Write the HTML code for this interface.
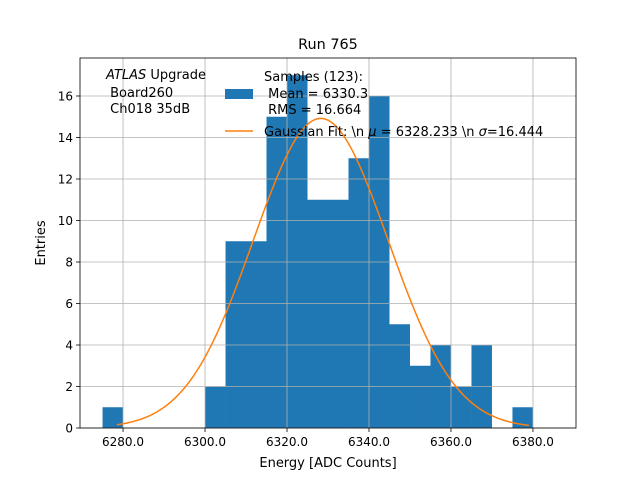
<!DOCTYPE html>
<html><head><meta charset="utf-8"><style>body{margin:0;background:#fff}svg{font-family:"DejaVu Sans","Liberation Sans",sans-serif}text{white-space:pre}</style></head>
<body>
<svg id="c" width="640" height="480">
<rect width="640" height="480" fill="#fff"/>
</svg>
<script>
const binStarts=[6275,6300,6305,6310,6315,6320,6325,6330,6335,6340,6345,6350,6355,6360,6365,6375];
const counts=[1,2,9,9,15,17,11,11,13,16,5,3,4,2,4,1];
const binWidth=5;
const xTicks=[6280,6300,6320,6340,6360,6380];
const yTicks=[0,2,4,6,8,10,12,14,16];
const fitMu=6328.233, fitSigma=16.444, fitN=123;
const L=80,R=576,T=58,B=428;
const x=v=>L+(v-6269.5)/(121)*(R-L);
const y=v=>B-v*20.75;
const svg=document.getElementById('c');
const NS='http://www.w3.org/2000/svg';
function mk(t,a,p){const e=document.createElementNS(NS,t);for(const k in a)e.setAttribute(k,a[k]);(p||svg).appendChild(e);return e;}
binStarts.forEach((s,i)=>{
  const r=mk('rect',{x:x(s),y:y(counts[i]),width:x(s+binWidth)-x(s),height:B-y(counts[i]),fill:'#1f77b4'});
  
  
});
xTicks.forEach(t=>{
  const g=mk('line',{x1:x(t),x2:x(t),y1:T,y2:B,stroke:'#b0b0b0','stroke-width':0.8});
  
  
  mk('line',{x1:x(t),x2:x(t),y1:B,y2:B+4,stroke:'#000','stroke-width':0.8});
  const l=mk('text',{x:x(t),y:B+18,'text-anchor':'middle','font-size':12});l.textContent=t.toFixed(1);
  
  
});
yTicks.forEach(t=>{
  const g=mk('line',{x1:L,x2:R,y1:y(t),y2:y(t),stroke:'#b0b0b0','stroke-width':0.8});
  
  
  mk('line',{x1:L-4,x2:L,y1:y(t),y2:y(t),stroke:'#000','stroke-width':0.8});
  const l=mk('text',{x:L-7,y:y(t)+4.5,'text-anchor':'end','font-size':12});l.textContent=t;
  
  
});
const amp=fitN*binWidth/(fitSigma*Math.sqrt(2*Math.PI));
let d='';
for(let v=6278.5;v<=6379;v+=0.5){const g=amp*Math.exp(-0.5*((v-fitMu)/fitSigma)**2);d+=(d?'L':'M')+x(v).toFixed(2)+','+y(g).toFixed(2);}
const fit=mk('path',{d:d,fill:'none',stroke:'#ff7f0e','stroke-width':1.5});


const fr=mk('rect',{x:L,y:T,width:R-L,height:B-T,fill:'none',stroke:'#000','stroke-width':0.8});


</script>
<svg width="640" height="480" style="position:absolute;left:0;top:0">
<text x="328" y="49" text-anchor="middle" font-size="14.4">Run 765</text>
<text x="328" y="467" text-anchor="middle" font-size="13">Energy [ADC Counts]</text>
<text x="45" y="243" text-anchor="middle" font-size="13" transform="rotate(-90 45 243)">Entries</text>
<g font-size="13">
<text x="106" y="79"><tspan font-style="italic">ATLAS</tspan> Upgrade</text>
<text x="106" y="97"> Board260</text>
<text x="106" y="113"> Ch018 35dB</text>
</g>
<g font-size="13">
<rect x="225" y="89" width="28" height="10" fill="#1f77b4"/>
<text x="264" y="81">Samples (123):</text>
<text x="264" y="98"> Mean = 6330.3</text>
<text x="264" y="114"> RMS = 16.664</text>
<line x1="225" x2="253" y1="131" y2="131" stroke="#ff7f0e" stroke-width="1.5"/>
<text x="264" y="136">Gaussian Fit: \n <tspan font-style="italic">μ</tspan> = 6328.233 \n <tspan font-style="italic">σ</tspan>=16.444</text>
</g>
</svg>
</body></html>
